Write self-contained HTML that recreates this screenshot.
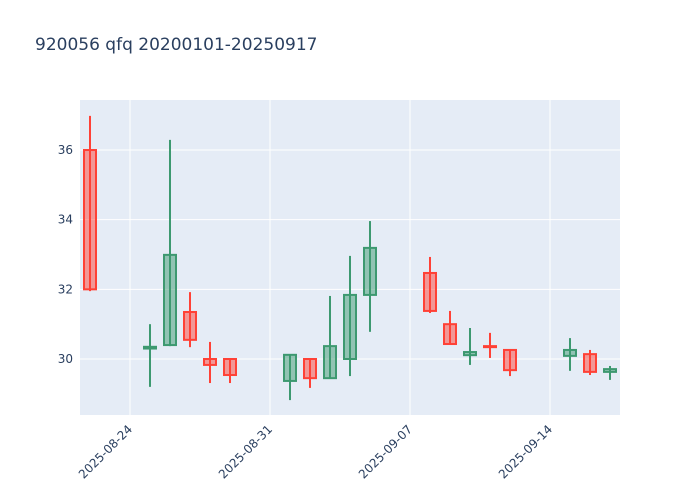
<!DOCTYPE html>
<html><head><meta charset="utf-8"><style>
body{margin:0;background:#fff;font-family:"DejaVu Sans",sans-serif}
</style></head><body>
<svg id="chart" width="700" height="500" xmlns="http://www.w3.org/2000/svg" font-family="DejaVu Sans, sans-serif">
<rect width="700" height="500" fill="#fff"/>
<text x="35" y="50" font-size="17" fill="#2a3f5f">920056 qfq 20200101-20250917</text>
<rect x="80" y="100" width="540" height="315" fill="#e5ecf6"/>
<g id="grid"></g><g id="marks"></g><g id="axes"></g>
</svg>
<script>
const dates=["2025-08-22","2025-08-25","2025-08-26","2025-08-27","2025-08-28","2025-08-29","2025-09-01","2025-09-02","2025-09-03","2025-09-04","2025-09-05","2025-09-08","2025-09-09","2025-09-10","2025-09-11","2025-09-12","2025-09-15","2025-09-16","2025-09-17"];
const openV=[36.0,30.3,30.4,31.35,30.0,30.0,29.37,30.0,29.45,30.0,31.84,32.47,31.0,30.11,30.37,30.26,30.09,30.14,29.63];
const highV=[36.98,31.0,36.29,31.92,30.49,30.0,30.14,30.0,31.81,32.96,33.96,32.93,31.38,30.89,30.75,30.28,30.6,30.26,29.8];
const lowV=[31.95,29.2,30.37,30.34,29.31,29.31,28.82,29.17,29.45,29.51,30.78,31.32,30.43,29.83,30.03,29.51,29.66,29.54,29.4];
const closeV=[32.0,30.35,32.99,30.55,29.83,29.54,30.12,29.45,30.37,31.84,33.19,31.38,30.43,30.2,30.34,29.68,30.26,29.63,29.71];
const yTicks=[30,32,34,36];
const xTicks=["2025-08-24","2025-08-31","2025-09-07","2025-09-14"];
const NS="http://www.w3.org/2000/svg";
const day=864e5, t0=Date.UTC(2025,7,24);
function xs(d){const t=Date.parse(d+"T00:00:00Z");return 130+(t-t0)/day*20;}
function ys(v){return 359-(v-30)*34.83;}
function mk(tag,attrs,parent){const e=document.createElementNS(NS,tag);for(const k in attrs)e.setAttribute(k,attrs[k]);document.getElementById(parent).appendChild(e);return e;}
yTicks.forEach(v=>{
  const l=mk("line",{x1:80,x2:620,y1:ys(v),y2:ys(v),stroke:"#fff","stroke-width":1},"grid");
  
  
  const t=mk("text",{x:73,y:ys(v)+4,"text-anchor":"end","font-size":12,fill:"#2a3f5f"},"axes");
  t.textContent=v;
  
  
});
xTicks.forEach(d=>{
  const x=xs(d);
  const l=mk("line",{x1:x,x2:x,y1:100,y2:415,stroke:"#fff","stroke-width":1},"grid");
  
  
  const ax=x+3, ay=430;
  const t=mk("text",{x:ax,y:ay,"text-anchor":"end","font-size":12,fill:"#2a3f5f",transform:`rotate(-45 ${ax} ${ay})`},"axes");
  t.textContent=d;
  
  
});
dates.forEach((d,i)=>{
  const up=closeV[i]>=openV[i];
  const col=up?"#3D9970":"#FF4136", fill=up?"rgba(61,153,112,0.5)":"rgba(255,65,54,0.5)";
  const x=xs(d), top=ys(Math.max(openV[i],closeV[i])), bot=ys(Math.min(openV[i],closeV[i]));
  const w=mk("line",{x1:x,x2:x,y1:ys(highV[i]),y2:ys(lowV[i]),stroke:col,"stroke-width":2},"marks");
  
  
  const r=mk("rect",{x:x-6,y:top,width:12,height:Math.max(bot-top,1),fill:fill,stroke:col,"stroke-width":2},"marks");
  
  
});
</script>
</body></html>
